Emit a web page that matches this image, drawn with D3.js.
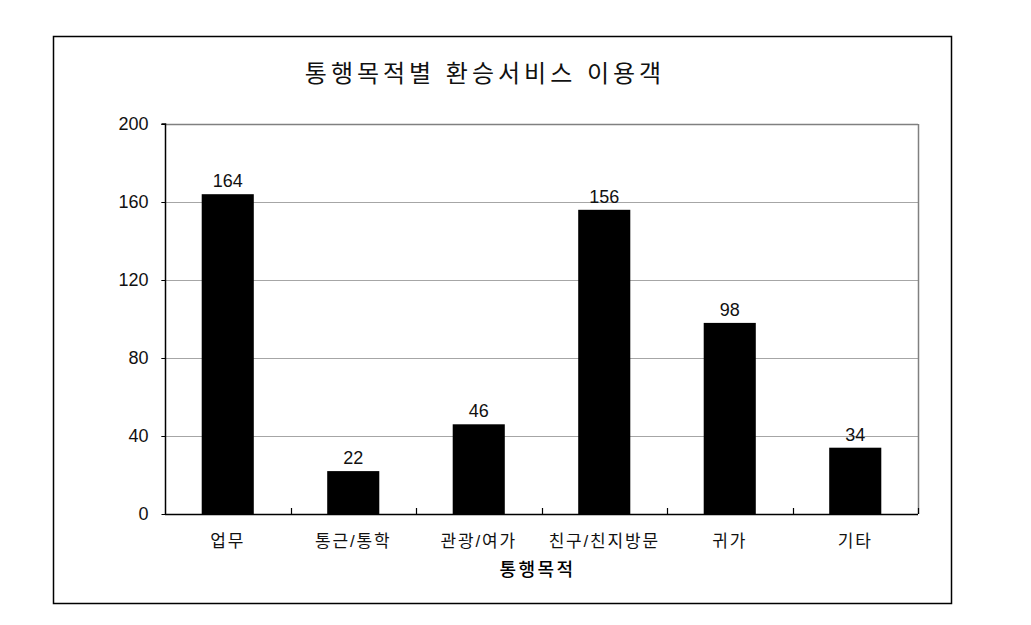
<!DOCTYPE html>
<html><head><meta charset="utf-8">
<script src="https://cdn.jsdelivr.net/npm/d3@7"></script>
<style>
body{margin:0;background:#fff;}
text{font-family:"Liberation Sans","Noto Sans CJK KR",sans-serif;}
</style></head>
<body>
<svg id="c" width="1031" height="625"></svg>
<script>
const categories = ["업무","통근/통학","관광/여가","친구/친지방문","귀가","기타"];
const values = [164,22,46,156,98,34];
const yTicks = [0,40,80,120,160,200];
const title = "통행목적별 환승서비스 이용객";
const xTitle = "통행목적";

const svg = d3.select("#c");
svg.append("rect").attr("x",0).attr("y",0).attr("width",1031).attr("height",625).attr("fill","#fff");
svg.append("rect").attr("x",53.5).attr("y",36.5).attr("width",898).attr("height",567)
  .attr("fill","none").attr("stroke","#000").attr("stroke-width",1.5);

const L=165, T=124, R=918, B=514;
const x = d3.scaleBand().domain(categories).range([L,R]).padding(0);
const y = d3.scaleLinear().domain([0,200]).range([B,T]);

// gridlines
svg.append("g").selectAll("line").data(yTicks.filter(d=>d>0)).join("line")
  .attr("x1",L-4).attr("x2",R).attr("y1",d=>Math.round(y(d))+0.5).attr("y2",d=>Math.round(y(d))+0.5)
  .attr("stroke","#a6a6a6").attr("stroke-width",1);
// right/top border
svg.append("line").attr("x1",R+0.5).attr("x2",R+0.5).attr("y1",T).attr("y2",B).attr("stroke","#808080").attr("stroke-width",1.5);
svg.append("line").attr("x1",L).attr("x2",R).attr("y1",T+0.5).attr("y2",T+0.5).attr("stroke","#808080").attr("stroke-width",1.5);

// bars
const bw = x.bandwidth()*0.415;
svg.append("g").selectAll("rect").data(values).join("rect")
  .attr("x",(d,i)=>x(categories[i])+x.bandwidth()/2-bw/2)
  .attr("width",bw)
  .attr("y",d=>y(d)).attr("height",d=>B-y(d)).attr("fill","#000");

// value labels
svg.append("g").selectAll("text").data(values).join("text")
  .attr("x",(d,i)=>x(categories[i])+x.bandwidth()/2)
  .attr("y",d=>y(d)-7).attr("text-anchor","middle").attr("font-size",18).attr("fill","#111")
  .text(d=>d);

// y axis
const yAxis = d3.axisLeft(y).tickValues(yTicks).tickSize(4).tickPadding(13);
const gy = svg.append("g").attr("transform",`translate(${L+0.5},0)`).call(yAxis);
gy.select(".domain").attr("stroke","#000").attr("stroke-width",1.5).attr("d",`M-4,${T}H0V${B}`);
gy.selectAll(".tick line").attr("stroke","#000");
gy.selectAll(".tick text").attr("font-size",18).attr("fill","#111")
  .attr("font-family",'"Liberation Sans","Noto Sans CJK KR",sans-serif');

// x axis
const xAxis = d3.axisBottom(x).tickSize(0).tickPadding(20);
const gx = svg.append("g").attr("transform",`translate(0,${B+0.5})`).call(xAxis);
gx.select(".domain").attr("stroke","#000").attr("stroke-width",1.5).attr("d",`M${L},0H${R}`);
gx.selectAll(".tick text").attr("font-size",17).attr("fill","#111").attr("letter-spacing",1.8)
  .attr("font-family",'"Noto Sans CJK KR",sans-serif');
// inward boundary ticks
const bounds = categories.slice(1).map(c=>x(c)).concat([R]);
svg.append("g").selectAll("line").data(bounds).join("line")
  .attr("x1",d=>Math.round(d)+0.5).attr("x2",d=>Math.round(d)+0.5)
  .attr("y1",B).attr("y2",B-6).attr("stroke","#000").attr("stroke-width",1.2);

// titles
svg.append("text").attr("x",485).attr("y",82).attr("text-anchor","middle")
  .attr("font-size",24).attr("letter-spacing",4).attr("fill","#111").attr("font-family",'"Noto Sans CJK KR",sans-serif').text(title);
svg.append("text").attr("x",(L+R)/2-4).attr("y",576).attr("text-anchor","middle")
  .attr("font-size",18).attr("letter-spacing",2.5).attr("fill","#000").attr("font-weight",500).attr("font-family",'"Noto Sans CJK KR",sans-serif').text(xTitle);
</script>
</body></html>
